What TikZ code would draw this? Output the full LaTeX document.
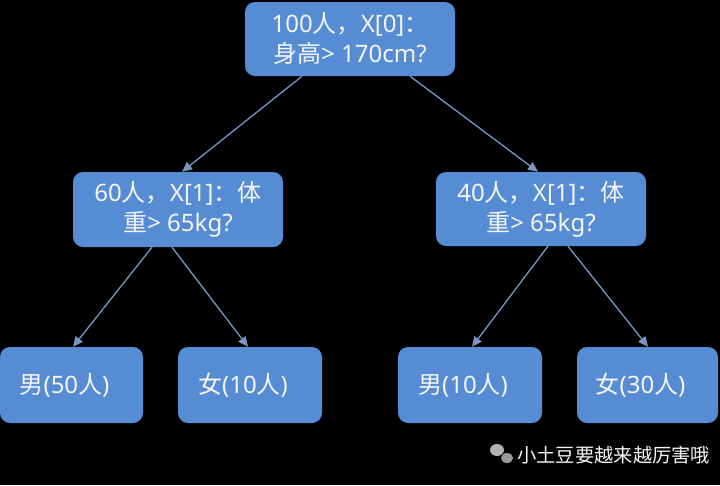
\documentclass[tikz,border=0pt]{standalone}
\usepackage{fontspec}
\setmainfont{Noto Sans CJK SC}
\newfontfamily\lat{Noto Sans}
\usetikzlibrary{arrows.meta,shapes.geometric}
\definecolor{boxblue}{RGB}{86,140,212}
\definecolor{arrblue}{RGB}{120,150,195}
\definecolor{txt}{RGB}{245,245,245}
\tikzset{
  boxbase/.style={draw=none, fill=boxblue, rounded corners=10pt, text=txt,
    font=\fontsize{24}{30}\selectfont, inner sep=0pt},
  box/.style={boxbase, align=center},
  leaf/.style={boxbase, minimum height=76pt},
  arr/.style={draw=arrblue, line width=1.3pt, -{Triangle[length=10pt,width=9pt]}},
}
\begin{document}
\begin{tikzpicture}[x=1pt,y=-1pt]
\useasboundingbox (0,0) rectangle (720,485);
\fill[black] (0,0) rectangle (720,485);
\node[box, minimum width=210pt, minimum height=74pt] (top) at (350,39) {{\lat 100}人，{\lat X[0]}：\\身高{\lat > 170cm?}};
\node[box, minimum width=210pt, minimum height=75pt] (ml) at (178,209.5) {{\lat 60}人，{\lat X[1]}：体\\重{\lat > 65kg?}};
\node[box, minimum width=210pt, minimum height=74pt] (mr) at (541,209) {{\lat 40}人，{\lat X[1]}：体\\重{\lat > 65kg?}};
\node[leaf, minimum width=143pt] (b1) at (71.5,385) {男{\lat (50}人{\lat )}\kern14pt};
\node[leaf, minimum width=144pt] (b2) at (250,385) {女{\lat (10}人{\lat )}\kern14pt};
\node[leaf, minimum width=144pt] (b3) at (470,385) {男{\lat (10}人{\lat )}\kern14pt};
\node[leaf, minimum width=141pt] (b4) at (647.5,385) {女{\lat (30}人{\lat )}\kern14pt};
\draw[arr] ([xshift=-48pt]top.south) -- ([xshift=4pt]ml.north);
\draw[arr] ([xshift=60pt]top.south) -- ([xshift=-3pt]mr.north);
\draw[arr] ([xshift=-26pt]ml.south) -- ([xshift=1.5pt]b1.north);
\draw[arr] ([xshift=-6pt]ml.south) -- ([xshift=-2pt]b2.north);
\draw[arr] ([xshift=7pt]mr.south) -- ([xshift=2pt]b3.north);
\draw[arr] ([xshift=27pt]mr.south) -- ([xshift=0.5pt]b4.north);
% watermark
\node[fill=gray!60, ellipse, minimum width=14pt, minimum height=12pt, inner sep=0pt] (wc1) at (497,450) {};
\node[fill=gray!80, ellipse, minimum width=12pt, minimum height=10pt, inner sep=0pt] (wc2) at (507,458) {};
\node[anchor=west, text=txt, font=\fontsize{19.3}{20}\selectfont, inner sep=0pt] (wm) at (517,455) {小土豆要越来越厉害哦};
\end{tikzpicture}
\end{document}
